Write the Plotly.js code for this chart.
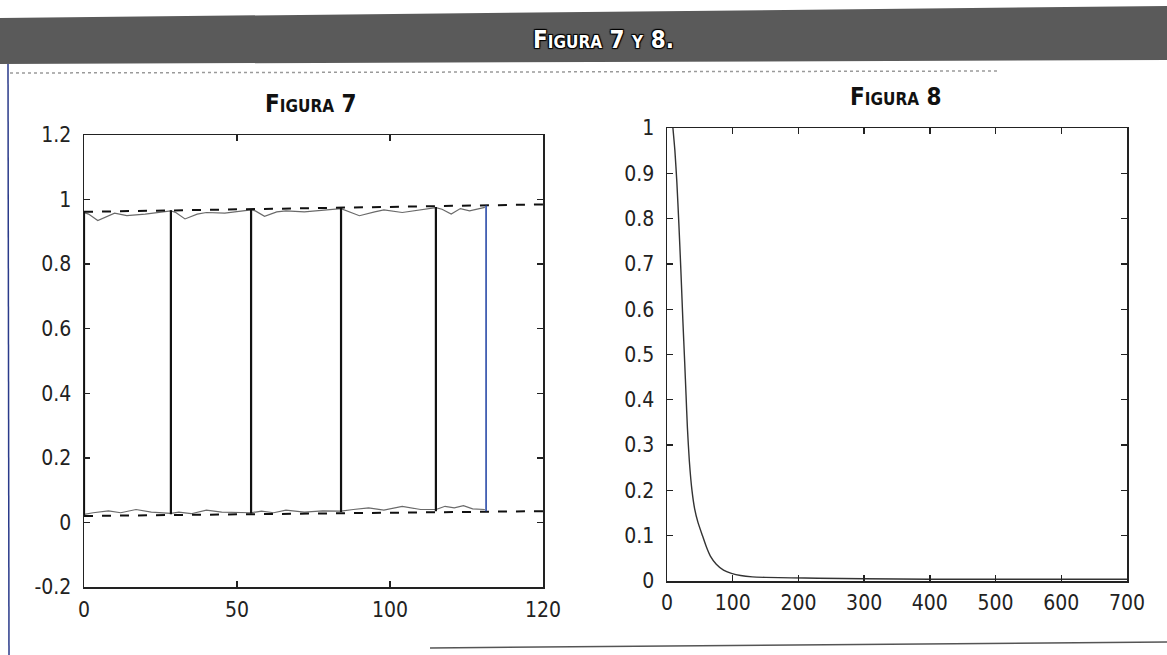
<!DOCTYPE html>
<html>
<head>
<meta charset="utf-8">
<script src="https://cdn.plot.ly/plotly-3.0.1.min.js"></script>
<style>
html,body{margin:0;padding:0;background:#fff;}
#chart{width:1167px;height:655px;}
</style>
</head>
<body>
<div id="chart"></div>
<script>
// ---------- Figura 7 data ----------
const fig7TopX = [0, 1.5, 4.5, 8, 10, 14, 20, 28.4, 30, 33, 37, 40, 46, 54.6, 56, 59, 63, 66, 72, 84, 86, 90, 95, 98, 104, 110, 115, 117, 120, 123, 126, 131];
const fig7TopY = [0.96, 0.955, 0.935, 0.95, 0.958, 0.95, 0.955, 0.965, 0.96, 0.94, 0.955, 0.96, 0.958, 0.968, 0.965, 0.948, 0.962, 0.965, 0.962, 0.972, 0.965, 0.95, 0.962, 0.968, 0.96, 0.968, 0.975, 0.97, 0.955, 0.972, 0.965, 0.976];
const fig7BotX = [0, 3, 8, 12, 17, 22, 28.4, 31, 35, 40, 45, 50, 54.6, 58, 62, 66, 72, 78, 84, 88, 93, 98, 104, 110, 115, 118, 121, 124, 127, 131];
const fig7BotY = [0.025, 0.03, 0.036, 0.03, 0.04, 0.032, 0.028, 0.032, 0.027, 0.038, 0.032, 0.03, 0.03, 0.035, 0.03, 0.038, 0.032, 0.036, 0.035, 0.04, 0.045, 0.038, 0.05, 0.04, 0.04, 0.05, 0.045, 0.052, 0.042, 0.04];
const fig7RefX = [0, 150];
const fig7RefHigh = [0.962, 0.985];
const fig7RefLow = [0.02, 0.035];
const fig7SwitchX = [0, 28.4, 54.6, 84.0, 115.0];
const fig7SwitchLow = [0.022, 0.025, 0.028, 0.032, 0.035];
const fig7SwitchHigh = [0.962, 0.967, 0.97, 0.974, 0.977];
const fig7LastX = [131.4];
const fig7LastLow = [0.035];
const fig7LastHigh = [0.982];
const fig7XTicks = [0, 50, 100, 150];
const fig7XLabels = ['0', '50', '100', '120'];
const fig7YTicks = [-0.2, 0, 0.2, 0.4, 0.6, 0.8, 1, 1.2];
const fig7YLabels = ['-0.2', '0', '0.2', '0.4', '0.6', '0.8', '1', '1.2'];

// ---------- Figura 8 data ----------
const fig8X = [9, 12, 15, 18, 21, 24, 27, 29, 31, 34, 38, 42, 47, 54, 60, 66, 75, 86, 98, 112, 130, 150, 189, 230, 300, 400, 500, 600, 700];
const fig8Y = [1.0, 0.95, 0.88, 0.79, 0.69, 0.58, 0.48, 0.41, 0.34, 0.265, 0.2, 0.16, 0.13, 0.1, 0.075, 0.055, 0.037, 0.024, 0.017, 0.012, 0.009, 0.008, 0.007, 0.006, 0.005, 0.004, 0.004, 0.004, 0.004];
const fig8XTicks = [0, 100, 200, 300, 400, 500, 600, 700];
const fig8YTicks = [0, 0.1, 0.2, 0.3, 0.4, 0.5, 0.6, 0.7, 0.8, 0.9, 1];
const fig8YLabels = ['0', '0.1', '0.2', '0.3', '0.4', '0.5', '0.6', '0.7', '0.8', '0.9', '1'];

// ---------- helpers ----------
const W = 1167, H = 655;
const px = v => v / W;
const py = v => 1 - v / H;
const FONT = '"Liberation Sans Narrow", "DejaVu Sans Condensed", "Roboto Condensed", "Roboto", sans-serif';

function segments(xs, lows, highs) {
  const x = [], y = [];
  xs.forEach((v, i) => { x.push(v, v, null); y.push(lows[i], highs[i], null); });
  return {x, y};
}
const sw = segments(fig7SwitchX, fig7SwitchLow, fig7SwitchHigh);
const last = segments(fig7LastX, fig7LastLow, fig7LastHigh);

const traces = [
  {x: fig7TopX, y: fig7TopY, mode: 'lines', line: {color: '#6a6a6a', width: 1.2}, xaxis: 'x', yaxis: 'y'},
  {x: fig7BotX, y: fig7BotY, mode: 'lines', line: {color: '#6a6a6a', width: 1.2}, xaxis: 'x', yaxis: 'y'},
  {x: fig7RefX, y: fig7RefHigh, mode: 'lines', line: {color: '#111', width: 2, dash: 'dash'}, xaxis: 'x', yaxis: 'y'},
  {x: fig7RefX, y: fig7RefLow, mode: 'lines', line: {color: '#111', width: 2, dash: 'dash'}, xaxis: 'x', yaxis: 'y'},
  {x: sw.x, y: sw.y, mode: 'lines', line: {color: '#111', width: 2.2}, xaxis: 'x', yaxis: 'y', connectgaps: false},
  {x: last.x, y: last.y, mode: 'lines', line: {color: '#2a4aa8', width: 1.6}, xaxis: 'x', yaxis: 'y', connectgaps: false},
  {x: fig8X, y: fig8Y, mode: 'lines', line: {color: '#333', width: 1.4, shape: 'spline', smoothing: 0.6}, xaxis: 'x2', yaxis: 'y2'}
];

const axisCommon = {
  showgrid: false, zeroline: false, showline: true, linecolor: '#222', linewidth: 1.5,
  mirror: 'ticks', ticks: 'inside', ticklen: 6, tickwidth: 1.3, tickcolor: '#222',
  tickfont: {family: FONT, size: 21, color: '#222'}, tickmode: 'array'
};

const layout = {
  width: W, height: H,
  margin: {l: 0, r: 0, t: 0, b: 0},
  paper_bgcolor: '#fff', plot_bgcolor: '#fff',
  showlegend: false,
  xaxis: Object.assign({}, axisCommon, {domain: [px(84), px(543)], range: [0, 150], tickvals: fig7XTicks, ticktext: fig7XLabels, anchor: 'y', ticklabelstandoff: 3}),
  yaxis: Object.assign({}, axisCommon, {domain: [py(587), py(135)], range: [-0.2, 1.2], tickvals: fig7YTicks, ticktext: fig7YLabels, anchor: 'x', ticklabelstandoff: 7}),
  xaxis2: Object.assign({}, axisCommon, {domain: [px(667), px(1127)], range: [0, 700], tickvals: fig8XTicks, anchor: 'y2', ticklabelstandoff: 2}),
  yaxis2: Object.assign({}, axisCommon, {domain: [py(581), py(128)], range: [0, 1], tickvals: fig8YTicks, ticktext: fig8YLabels, anchor: 'x2', ticklabelstandoff: 7}),
  shapes: [
    {type: 'path', xref: 'paper', yref: 'paper',
     path: `M 0 ${py(18)} L 1 ${py(6)} L 1 ${py(60)} L 0 ${py(64)} Z`,
     fillcolor: '#5a5a5a', line: {width: 0}, layer: 'below'},
    {type: 'line', xref: 'paper', yref: 'paper', x0: px(10), x1: px(1000), y0: py(73), y1: py(71),
     line: {color: '#9a9a9a', width: 1.5, dash: 'dot'}},
    {type: 'line', xref: 'paper', yref: 'paper', x0: px(8), x1: px(9), y0: py(64), y1: py(655),
     line: {color: '#2a3a8a', width: 1.5}},
    {type: 'line', xref: 'paper', yref: 'paper', x0: px(430), x1: 1, y0: py(648), y1: py(642),
     line: {color: '#555', width: 1.5}}
  ],
  annotations: [
    {xref: 'paper', yref: 'paper', x: px(603), y: py(40), xanchor: 'center', yanchor: 'middle',
     text: '<b>Figura 7 y 8.</b>', showarrow: false,
     font: {family: FONT, size: 24, color: '#ffffff', variant: 'small-caps', shadow: '1px 1px 1px #000, -1px -1px 1px #000, 1px -1px 1px #000, -1px 1px 1px #000'}},
    {xref: 'paper', yref: 'paper', x: px(311), y: py(104), xanchor: 'center', yanchor: 'middle',
     text: '<b>Figura 7</b>', showarrow: false,
     font: {family: FONT, size: 24, color: '#111', variant: 'small-caps'}},
    {xref: 'paper', yref: 'paper', x: px(896), y: py(97), xanchor: 'center', yanchor: 'middle',
     text: '<b>Figura 8</b>', showarrow: false,
     font: {family: FONT, size: 24, color: '#111', variant: 'small-caps'}}
  ]
};

Plotly.newPlot('chart', traces, layout, {displayModeBar: false, staticPlot: true});
</script>
</body>
</html>
